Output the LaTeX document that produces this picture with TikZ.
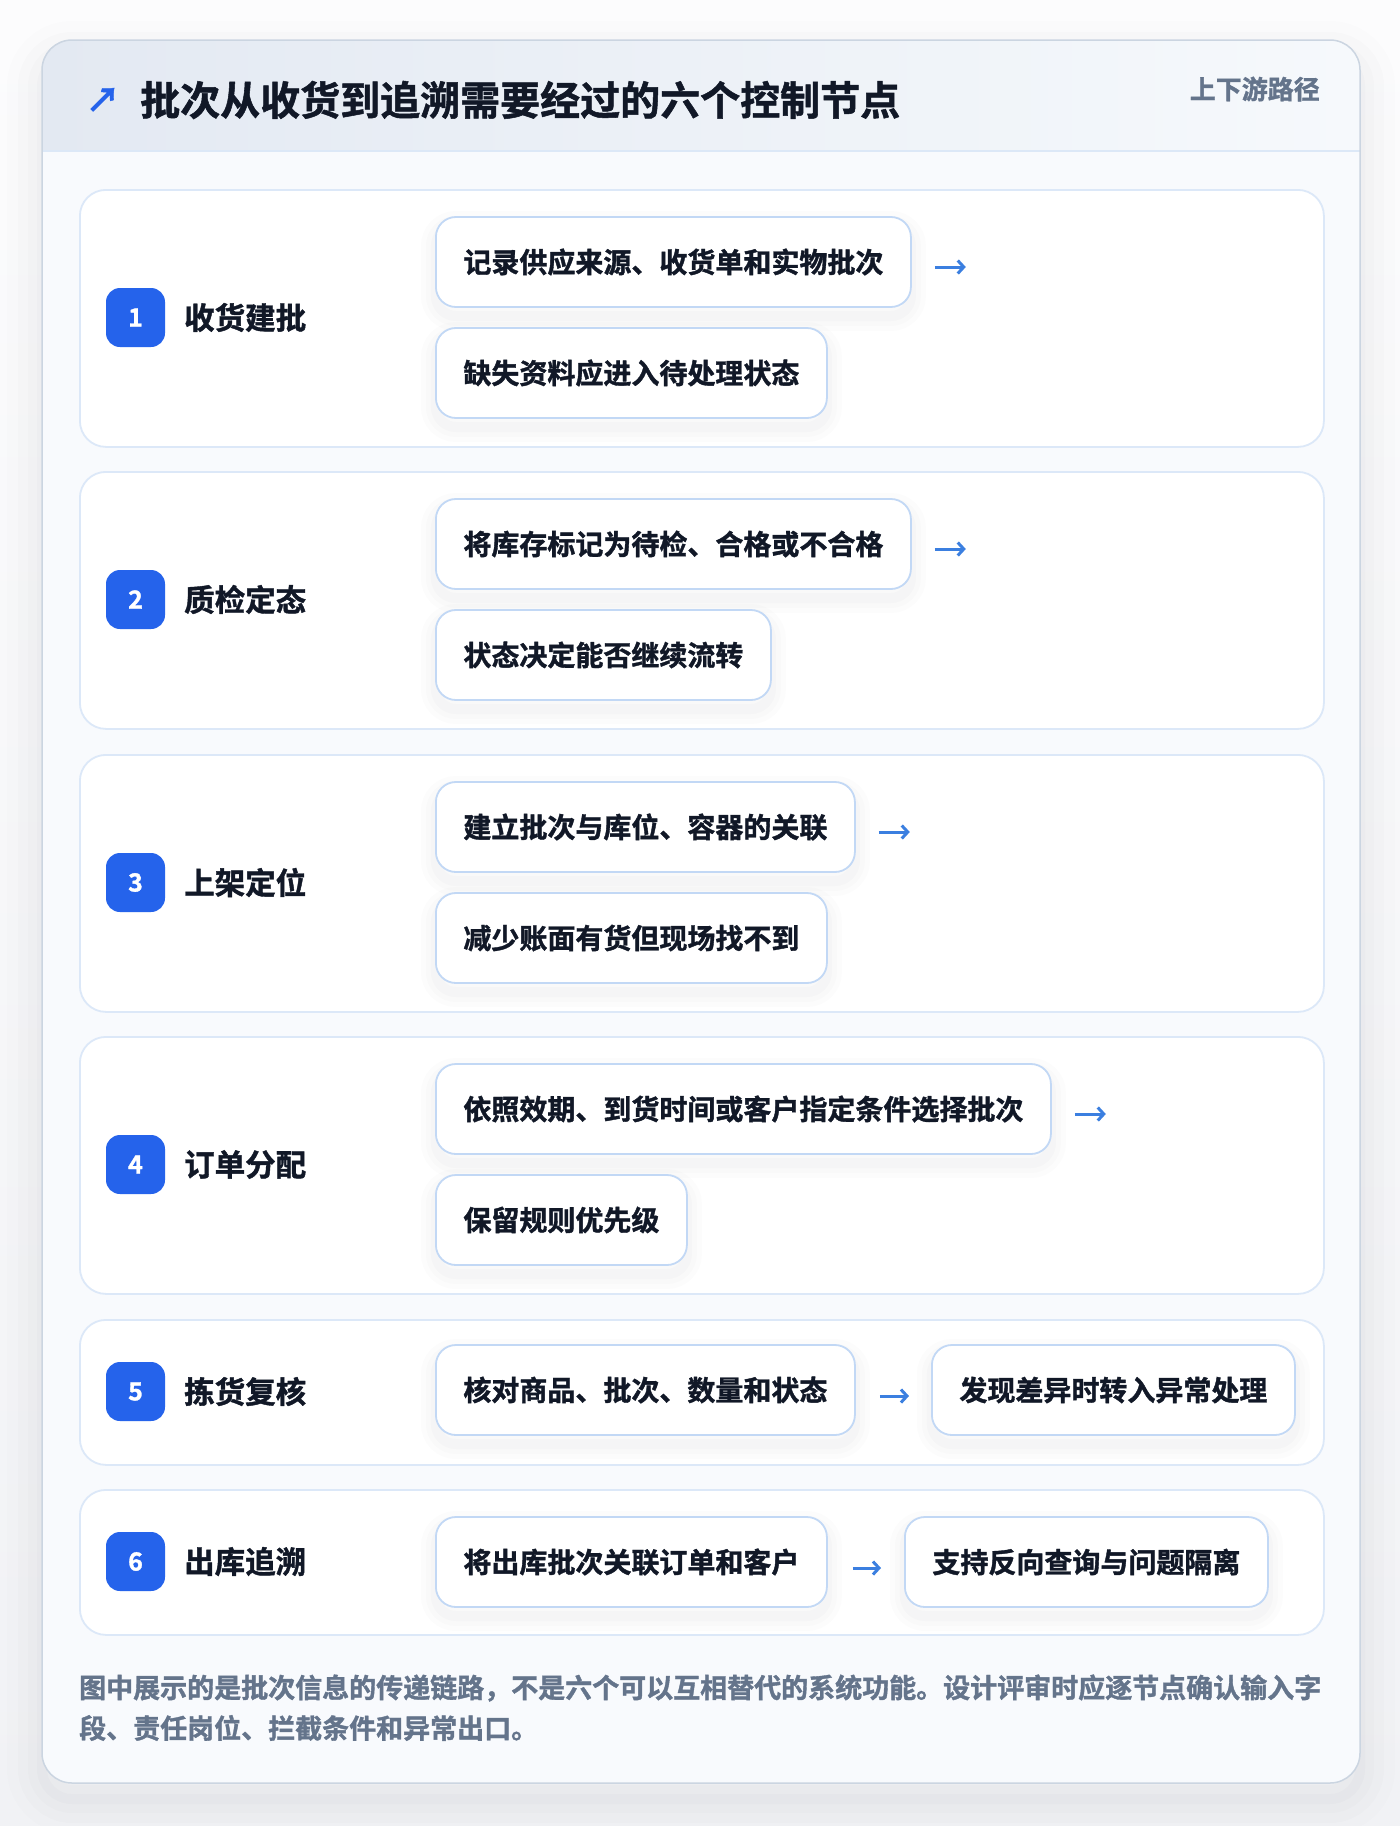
\documentclass[tikz,border=0pt]{standalone}
\usepackage{fontspec}
\setmainfont{Noto Sans CJK SC}[BoldFont={Noto Sans CJK SC Bold},BoldFeatures={FakeBold=1.3}]
\usetikzlibrary{arrows.meta}
\definecolor{pagetop}{HTML}{FCFCFD}
\definecolor{pagebot}{HTML}{F1F2F5}
\definecolor{cardbg}{HTML}{F8FAFD}
\definecolor{cardline}{HTML}{CBD5E1}
\definecolor{hdrL}{HTML}{E3E9F2}
\definecolor{hdrR}{HTML}{F6F9FC}
\definecolor{hdrline}{HTML}{DCE8F7}
\definecolor{stepline}{HTML}{DCE8F8}
\definecolor{boxline}{HTML}{C2D8F5}
\definecolor{ink}{HTML}{111827}
\definecolor{muted}{HTML}{64748B}
\definecolor{badge}{HTML}{2563EB}
\definecolor{arrowc}{HTML}{3B7FE0}
\definecolor{shade}{HTML}{1E293B}
\tikzset{
  softshadow/.style={
    preaction={draw=shade, line width=30pt, draw opacity=0.010, transform canvas={yshift=-9pt}},
    preaction={draw=shade, line width=20pt, draw opacity=0.012, transform canvas={yshift=-9pt}},
    preaction={draw=shade, line width=10pt, draw opacity=0.015, transform canvas={yshift=-9pt}}},
  bigshadow/.style={
    preaction={draw=shade, line width=70pt, draw opacity=0.008, transform canvas={yshift=-16pt}},
    preaction={draw=shade, line width=48pt, draw opacity=0.010, transform canvas={yshift=-16pt}},
    preaction={draw=shade, line width=28pt, draw opacity=0.012, transform canvas={yshift=-16pt}},
    preaction={draw=shade, line width=10pt, draw opacity=0.015, transform canvas={yshift=-16pt}}},
  stepcard/.style={draw=stepline, line width=1.8pt, fill=white, rounded corners=26pt, anchor=north west, minimum width=1244pt, inner sep=0},
  subbox/.style={softshadow, draw=boxline, line width=1.8pt, fill=white, rounded corners=20pt, minimum height=90pt, inner xsep=27.5pt, anchor=west, font=\bfseries\fontsize{28}{32}\selectfont, text=ink},
  badgebox/.style={fill=badge, rounded corners=14pt, minimum width=59pt, minimum height=59pt, text=white, font=\bfseries\fontsize{25}{27}\selectfont, inner sep=0},
  steplabel/.style={anchor=west, font=\bfseries\fontsize{30.5}{34}\selectfont, text=ink, inner sep=0},
  flow/.style={draw=arrowc, line width=3pt, -{Straight Barb[length=6pt,width=13pt]}},
  notetext/.style={anchor=west, inner sep=0, font=\bfseries\fontsize{27}{32}\selectfont, text=muted},
}
\begin{document}
\begin{tikzpicture}[x=1pt,y=-1pt]
\path[use as bounding box] (0,0) rectangle (1400,1826);
\fill[top color=pagetop, bottom color=pagebot] (0,0) rectangle (1400,1826);
% outer card
\path[bigshadow, fill=cardbg, rounded corners=30pt] (42,40) rectangle (1360,1783);
\begin{scope}
  \clip[rounded corners=30pt] (42,40) rectangle (1360,1783);
  \fill[left color=hdrL, right color=hdrR] (42,40) rectangle (1360,151);
\end{scope}
\draw[hdrline, line width=2pt] (42,151) -- (1360,151);
\draw[cardline, line width=1.5pt, rounded corners=30pt] (42,40) rectangle (1360,1783);
% header
\node[text=badge, font=\bfseries\fontsize{34}{36}\selectfont, inner sep=0] (icon) at (103,100) {↗};
\node[anchor=west, font=\bfseries\fontsize{40}{44}\selectfont, text=ink, inner sep=0] (title) at (140,100) {批次从收货到追溯需要经过的六个控制节点};
\node[anchor=east, font=\bfseries\fontsize{26}{28}\selectfont, text=muted, inner sep=0] (tag) at (1320,89) {上下游路径};
% step cards
\node[stepcard, minimum height=257pt] (c1) at (79,189) {};
\node[stepcard, minimum height=257pt] (c2) at (79,471) {};
\node[stepcard, minimum height=257pt] (c3) at (79,754) {};
\node[stepcard, minimum height=257pt] (c4) at (79,1036) {};
\node[stepcard, minimum height=145pt] (c5) at (79,1319) {};
\node[stepcard, minimum height=145pt] (c6) at (79,1489) {};
% row 1
\node[badgebox] (n1) at (135.5,317.5) {1};
\node[steplabel] (l1) at (184,317.5) {收货建批};
\node[subbox] (r1a) at (435,262) {记录供应来源、收货单和实物批次};
\node[subbox] (r1b) at (435,373) {缺失资料应进入待处理状态};
\draw[flow] ([xshift=23pt,yshift=-5pt]r1a.east) -- ++(31pt,0);
% row 2
\node[badgebox] (n2) at (135.5,599.5) {2};
\node[steplabel] (l2) at (184,599.5) {质检定态};
\node[subbox] (r2a) at (435,544) {将库存标记为待检、合格或不合格};
\node[subbox] (r2b) at (435,655) {状态决定能否继续流转};
\draw[flow] ([xshift=23pt,yshift=-5pt]r2a.east) -- ++(31pt,0);
% row 3
\node[badgebox] (n3) at (135.5,882.5) {3};
\node[steplabel] (l3) at (184,882.5) {上架定位};
\node[subbox] (r3a) at (435,827) {建立批次与库位、容器的关联};
\node[subbox] (r3b) at (435,938) {减少账面有货但现场找不到};
\draw[flow] ([xshift=23pt,yshift=-5pt]r3a.east) -- ++(31pt,0);
% row 4
\node[badgebox] (n4) at (135.5,1164.5) {4};
\node[steplabel] (l4) at (184,1164.5) {订单分配};
\node[subbox] (r4a) at (435,1109) {依照效期、到货时间或客户指定条件选择批次};
\node[subbox] (r4b) at (435,1220) {保留规则优先级};
\draw[flow] ([xshift=23pt,yshift=-5pt]r4a.east) -- ++(31pt,0);
% row 5
\node[badgebox] (n5) at (135.5,1391.5) {5};
\node[steplabel] (l5) at (184,1391.5) {拣货复核};
\node[subbox] (r5a) at (435,1390) {核对商品、批次、数量和状态};
\node[subbox] (r5b) at (931,1390) {发现差异时转入异常处理};
\draw[flow] ([xshift=24pt,yshift=-6pt]r5a.east) -- ([xshift=-22pt,yshift=-6pt]r5b.west);
% row 6
\node[badgebox] (n6) at (135.5,1561.5) {6};
\node[steplabel] (l6) at (184,1561.5) {出库追溯};
\node[subbox] (r6a) at (435,1562) {将出库批次关联订单和客户};
\node[subbox] (r6b) at (904,1562) {支持反向查询与问题隔离};
\draw[flow] ([xshift=25pt,yshift=-6pt]r6a.east) -- ([xshift=-23pt,yshift=-6pt]r6b.west);
% footnote
\node[notetext] (note1) at (79,1688) {图中展示的是批次信息的传递链路，不是六个可以互相替代的系统功能。设计评审时应逐节点确认输入字};
\node[notetext] (note2) at (79,1728) {段、责任岗位、拦截条件和异常出口。};
\end{tikzpicture}
\end{document}
